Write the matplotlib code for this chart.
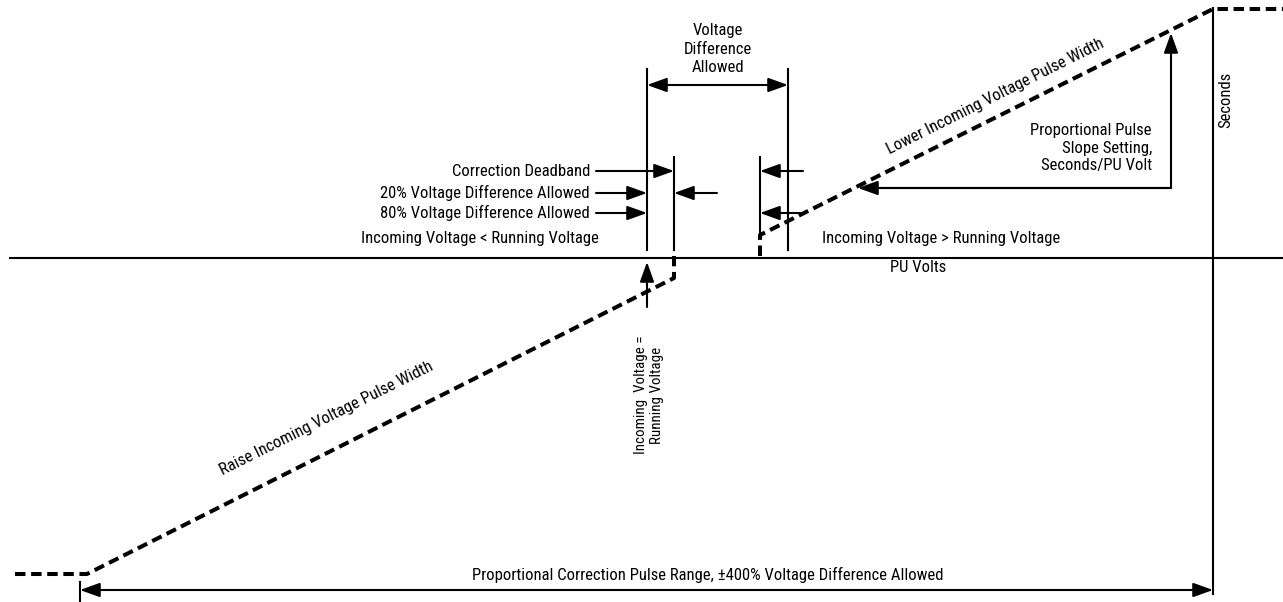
import numpy as np
import matplotlib
matplotlib.use("Agg")
import matplotlib.pyplot as plt

plt.rcParams['font.family'] = ['Roboto Condensed', 'Barlow Semi Condensed', 'Liberation Sans Narrow', 'DejaVu Sans']
plt.rcParams['font.size'] = 12

# pulse width characteristic (x: PU volts, y: seconds, origin where incoming = running)
raise_x = [-659, -587, 0, 0]
raise_y = [-316, -316, -20, 2]
lower_x = [86, 86, 539, 609]
lower_y = [2, 23, 249, 249]

# band limits
vda_left, vda_right = -27, 114        # voltage difference allowed
db_left, db_right = 0, 86             # correction deadband
band_top, db_top, band_bottom = 189, 101, 8

left_labels = ["Correction Deadband", "20% Voltage Difference Allowed", "80% Voltage Difference Allowed"]
left_label_y = [87, 65, 45]
left_label_target = [db_left, vda_left, vda_left]

seconds_axis_x = 539
range_left = -594
slope_corner = (497, 70)
slope_top = 225
slope_tip_x = 184

fig = plt.figure(figsize=(12.83, 6.02), dpi=100)
ax = fig.add_axes([0, 0, 1, 1])
ax.set_xlim(-674, 609)
ax.set_ylim(-344, 258)
ax.axis('off')

k = 'black'
lw = 1.5
dash = dict(color=k, lw=2.9, linestyle=(0, (2.6, 1.4)), solid_capstyle='butt', dash_capstyle='butt')
head = '-|>,head_length=1.0,head_width=0.36'
dhead = '<|-|>,head_length=1.0,head_width=0.36'


def arrow(x0, y0, x1, y1, style=head):
    ax.annotate('', xy=(x1, y1), xytext=(x0, y0),
                arrowprops=dict(arrowstyle=style, color=k, lw=lw, shrinkA=0, shrinkB=0))


# axes
ax.plot([-664, 609], [0, 0], color=k, lw=lw)
ax.plot([seconds_axis_x, seconds_axis_x], [250, -336], color=k, lw=lw)

# characteristic
ax.plot(raise_x, raise_y, **dash)
ax.plot(lower_x, lower_y, **dash)

# band lines
ax.plot([vda_left, vda_left], [band_top, band_bottom], color=k, lw=lw)
ax.plot([vda_right, vda_right], [band_top, band_bottom], color=k, lw=lw)
ax.plot([db_left, db_left], [db_top, band_bottom], color=k, lw=lw)
ax.plot([db_right, db_right], [db_top, 25], color=k, lw=lw)

arrow(vda_left, 173, vda_right, 173, dhead)
ax.text((vda_left + vda_right) / 2, 209, "Voltage\nDifference\nAllowed", ha='center', va='center',
        linespacing=1.25)

for lab, yy, tx in zip(left_labels, left_label_y, left_label_target):
    arrow(-78, yy, tx, yy)
    ax.text(-84, yy, lab, ha='right', va='center')

arrow(43, 65, db_left, 65)
arrow(129, 87, db_right, 87)
arrow(129, 45, db_right, 45)

ax.text(-75, 20, "Incoming Voltage < Running Voltage", ha='right', va='center')
ax.text(148, 20, "Incoming Voltage > Running Voltage", ha='left', va='center')
ax.text(244, -10, "PU Volts", ha='center', va='center')
ax.text(552, 158, "Seconds", ha='center', va='center', rotation=90)

# slope setting
ax.plot([slope_corner[0], slope_tip_x + 10], [slope_corner[1], slope_corner[1]], color=k, lw=lw)
arrow(slope_corner[0], slope_corner[1], slope_tip_x, slope_corner[1])
arrow(slope_corner[0], slope_corner[1], slope_corner[0], slope_top)
ax.text(478, 110, "Proportional Pulse\nSlope Setting,\nSeconds/PU Volt", ha='right', va='center',
        multialignment='right', linespacing=1.22)

ang = np.degrees(np.arctan(0.5))
ax.text(321, 162, "Lower Incoming Voltage Pulse Width", ha='center', va='center', rotation=ang,
        rotation_mode='anchor')
ax.text(-348, -160, "Raise Incoming Voltage Pulse Width", ha='center', va='center', rotation=ang,
        rotation_mode='anchor')

# incoming = running
arrow(vda_left, -49, vda_left, -4)
ax.text(-25, -137, "Incoming  Voltage =\nRunning Voltage", ha='center', va='center', rotation=90,
        linespacing=1.15, fontsize=10.8)

# correction range
ax.plot([range_left, range_left], [-324, -344], color=k, lw=lw)
arrow(range_left, -332, seconds_axis_x, -332, dhead)
ax.text(34, -317, "Proportional Correction Pulse Range, \u00b1400% Voltage Difference Allowed",
        ha='center', va='center')

fig.savefig("out.png", dpi=100)
